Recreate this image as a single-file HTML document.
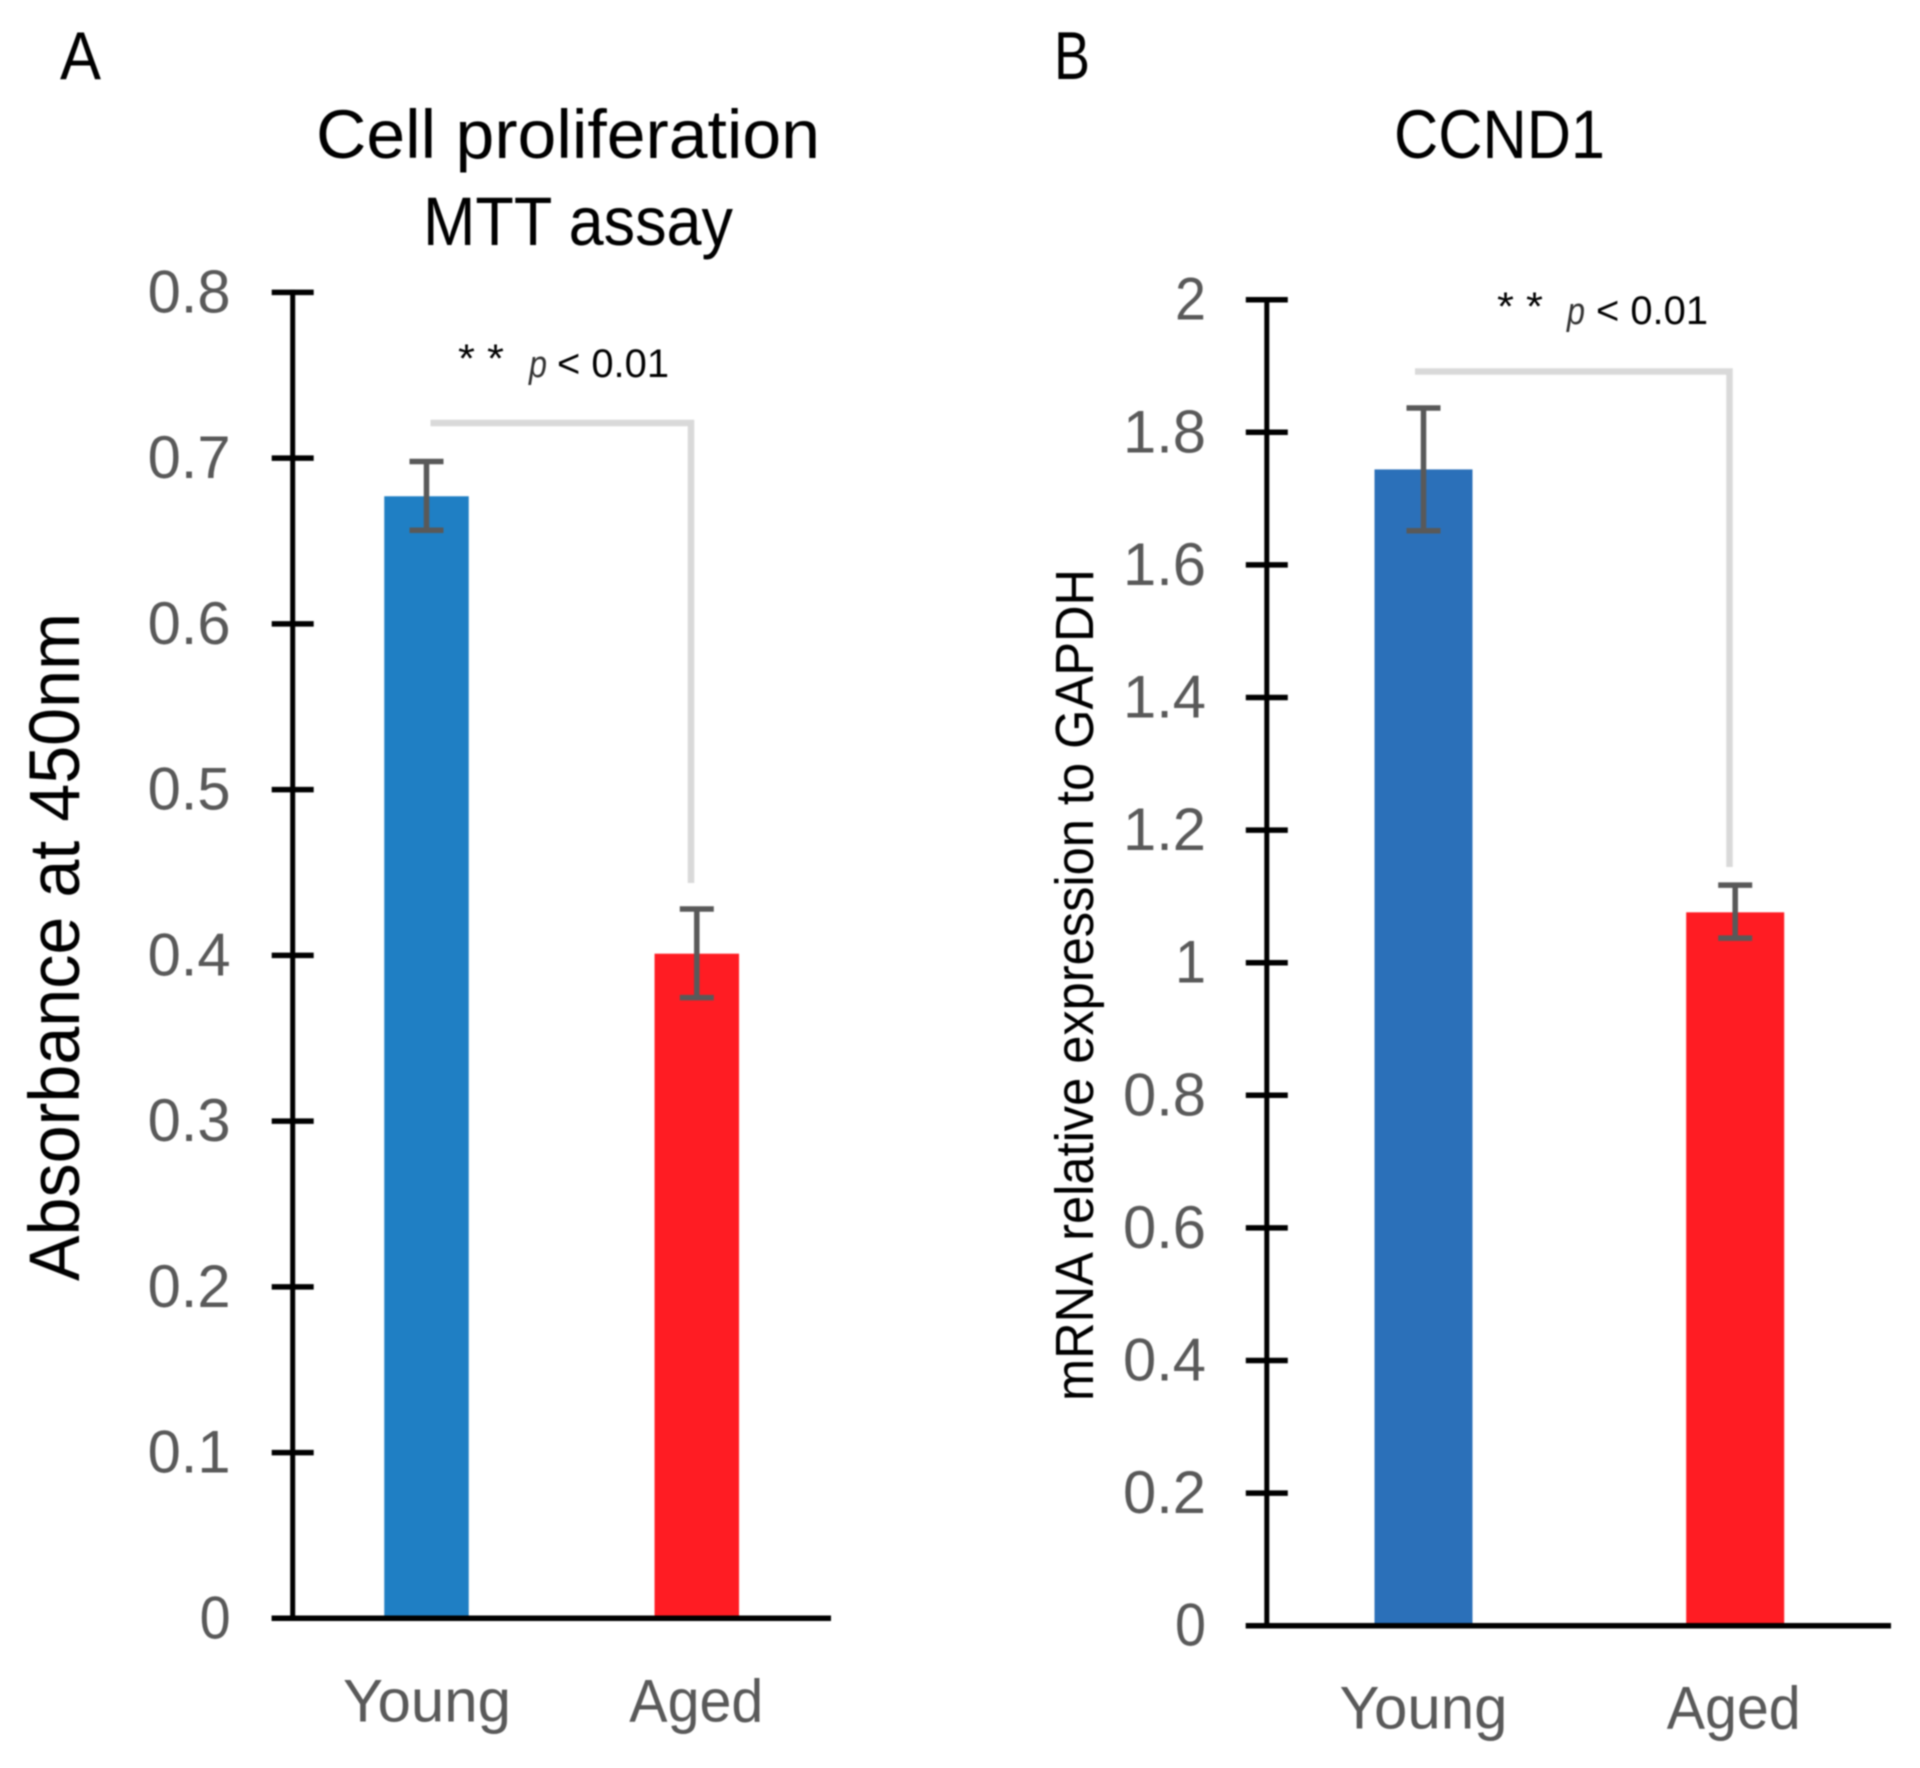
<!DOCTYPE html>
<html lang="en">
<head>
<meta charset="utf-8">
<title>Cell proliferation and CCND1 expression</title>
<style>
html,body{margin:0;padding:0;background:#fff;width:1920px;height:1768px;overflow:hidden}
svg{display:block;filter:blur(.7px)}
text{font-family:"Liberation Sans",sans-serif}
</style>
</head>
<body>
<svg id="figure" xmlns="http://www.w3.org/2000/svg" width="1920" height="1768" viewBox="0 0 1920 1768">
  <rect x="0" y="0" width="1920" height="1768" fill="#fff"/>
  <g id="panel-a">
    <text x="60" y="79" font-size="68" textLength="41" lengthAdjust="spacingAndGlyphs">A</text>
    <text x="316" y="158" font-size="69" textLength="504" lengthAdjust="spacingAndGlyphs">Cell proliferation</text>
    <text x="423" y="245" font-size="69" textLength="310" lengthAdjust="spacingAndGlyphs">MTT assay</text>
    <text transform="translate(79 1281) rotate(-90)" font-size="71" textLength="668" lengthAdjust="spacingAndGlyphs">Absorbance at 450nm</text>
    <text x="458" y="372" font-size="40" textLength="46" lengthAdjust="spacingAndGlyphs">* *</text>
    <text x="529" y="377" font-size="38" font-style="italic" textLength="18" lengthAdjust="spacingAndGlyphs" fill="#333">p</text>
    <text x="557" y="377" font-size="40" textLength="112" lengthAdjust="spacingAndGlyphs">&lt; 0.01</text>
  </g>
  <g id="panel-b">
    <text x="1054" y="79" font-size="68" textLength="36" lengthAdjust="spacingAndGlyphs">B</text>
    <text x="1394" y="158" font-size="69" textLength="211" lengthAdjust="spacingAndGlyphs">CCND1</text>
    <text transform="translate(1093 1401) rotate(-90)" font-size="54" textLength="832" lengthAdjust="spacingAndGlyphs">mRNA relative expression to GAPDH</text>
    <text x="1497" y="320" font-size="40" textLength="46" lengthAdjust="spacingAndGlyphs">* *</text>
    <text x="1567" y="324" font-size="38" font-style="italic" textLength="18" lengthAdjust="spacingAndGlyphs" fill="#333">p</text>
    <text x="1596" y="324" font-size="40" textLength="112" lengthAdjust="spacingAndGlyphs">&lt; 0.01</text>
  </g>
</svg>
<script>
// Chart data
const categories = ['Young', 'Aged'];
const aTickLabels = ['0', '0.1', '0.2', '0.3', '0.4', '0.5', '0.6', '0.7', '0.8'];
const aValues = [0.677, 0.401];
const aErrUpper = [0.698, 0.428];
const aErrLower = [0.6565, 0.3745];
const bTickLabels = ['0', '0.2', '0.4', '0.6', '0.8', '1', '1.2', '1.4', '1.6', '1.8', '2'];
const bValues = [1.744, 1.076];
const bErrUpper = [1.8366, 1.117];
const bErrLower = [1.6516, 1.037];

const NS = 'http://www.w3.org/2000/svg';

function line(parent, x1, y1, x2, y2, stroke, width) {
  const el = document.createElementNS(NS, 'line');
  el.setAttribute('x1', x1);
  el.setAttribute('y1', y1);
  el.setAttribute('x2', x2);
  el.setAttribute('y2', y2);
  el.setAttribute('stroke', stroke);
  el.setAttribute('stroke-width', width);
  parent.appendChild(el);
  return el;
}

function label(parent, content, x, y, size, length) {
  const el = document.createElementNS(NS, 'text');
  el.setAttribute('x', x);
  el.setAttribute('y', y);
  el.setAttribute('font-size', size);
  el.setAttribute('fill', '#595959');
  el.setAttribute('textLength', length);
  el.setAttribute('lengthAdjust', 'spacingAndGlyphs');
  el.textContent = content;
  parent.appendChild(el);
  return el;
}

function drawPanel(cfg, tickLabels, values, errUpper, errLower) {
  const g = document.getElementById(cfg.id);
  const yScale = v => cfg.y0 - (v / cfg.max) * (cfg.y0 - cfg.yTop);
  const xScale = i => cfg.firstCenter + i * cfg.spacing;

  // Bars
  values.forEach((v, i) => {
    const bar = document.createElementNS(NS, 'rect');
    bar.setAttribute('x', xScale(i) - cfg.barWidth / 2);
    bar.setAttribute('y', yScale(v));
    bar.setAttribute('width', cfg.barWidth);
    bar.setAttribute('height', cfg.y0 - yScale(v));
    bar.setAttribute('fill', i === 0 ? cfg.blue : '#ff1c23');
    
    
    g.appendChild(bar);
  });

  // Significance bracket
  const bracket = document.createElementNS(NS, 'path');
  bracket.setAttribute('d', 'M' + cfg.brLeft + ' ' + cfg.brY + 'H' + cfg.brRight + 'V' + cfg.brEnd);
  bracket.setAttribute('fill', 'none');
  bracket.setAttribute('stroke', '#d9d9d9');
  bracket.setAttribute('stroke-width', 6.5);
  
  
  g.appendChild(bracket);

  // Error bars
  values.forEach((v, i) => {
    const cx = xScale(i);
    const stem = line(g, cx, yScale(errUpper[i]), cx, yScale(errLower[i]), '#595959', 5.5);
    
    
    const capTop = line(g, cx - 17, yScale(errUpper[i]), cx + 17, yScale(errUpper[i]), '#595959', 5.5);
    
    
    const capLow = line(g, cx - 17, yScale(errLower[i]), cx + 17, yScale(errLower[i]), '#595959', 5.5);
    
    
  });

  // Y axis
  const yAxis = line(g, cfg.axisX, yScale(cfg.max) - 2.5, cfg.axisX, cfg.y0, '#000', 5);
  
  

  tickLabels.forEach(t => {
    const v = parseFloat(t);
    const tick = line(g, cfg.axisX - 21, yScale(v), cfg.axisX + 21, yScale(v), '#000', 5.5);
    
    
    const w = t.length === 1 ? 31 : 83;
    const txt = label(g, t, cfg.tickRight - w + 1, yScale(v) + 20, 60, w);
    
    
  });

  // X axis
  const xAxis = line(g, cfg.axisX - 21, cfg.y0, cfg.xEnd, cfg.y0, '#000', 5.5);
  
  

  categories.forEach((c, i) => {
    const w = c === 'Young' ? 168 : 134;
    const cat = label(g, c, xScale(i) - w / 2 + cfg.catShift[i], cfg.y0 + 103, 60, w);
    
    
  });
}

drawPanel({
  id: 'panel-a', y0: 1618.3, yTop: 292.4, max: 0.8, axisX: 292.7,
  firstCenter: 426.5, spacing: 270.3, barWidth: 84.5, blue: '#1f7fc4',
  tickRight: 229.6, xEnd: 831, catShift: [0.5, -0.5],
  brLeft: 430.5, brRight: 691, brY: 423, brEnd: 883
}, aTickLabels, aValues, aErrUpper, aErrLower);

drawPanel({
  id: 'panel-b', y0: 1625.7, yTop: 299.7, max: 2, axisX: 1266.8,
  firstCenter: 1423.5, spacing: 311.7, barWidth: 98, blue: '#2b70b9',
  tickRight: 1205, xEnd: 1891, catShift: [0, -1.5],
  brLeft: 1415, brRight: 1729.5, brY: 371.5, brEnd: 867
}, bTickLabels, bValues, bErrUpper, bErrLower);
</script>
</body>
</html>
